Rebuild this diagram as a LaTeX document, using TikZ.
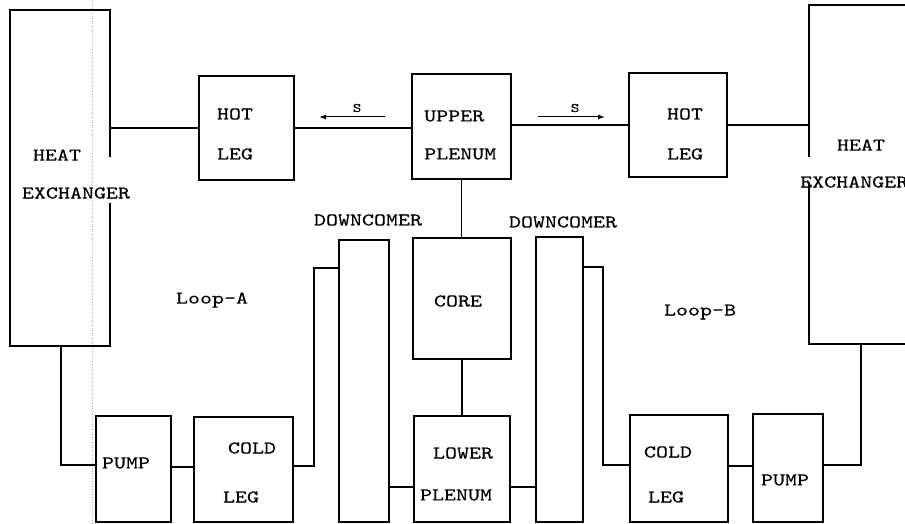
\documentclass[tikz,border=0pt]{standalone}
\usepackage{fontspec}
\newfontfamily\typew{lmmono10-regular.otf}[FakeStretch=1.27,FakeBold=0.3]
\usetikzlibrary{arrows.meta}
\begin{document}
\begin{tikzpicture}[x=1pt,y=-1pt,
  box/.style={draw, line width=1.1pt, inner sep=0pt, fill=none},
  lbl/.style={font=\typew\fontsize{18}{20}\selectfont, inner sep=0pt, text=black},
  slbl/.style={font=\typew\fontsize{13}{14}\selectfont, inner sep=0pt},
  pipe/.style={line width=1.1pt},
  flow/.style={line width=1pt, -{Latex[length=7pt,width=5pt]}}]
\useasboundingbox (0,0) rectangle (905,524);
\clip (0,0) rectangle (905,524);
% faint scan line
\draw[black!30, dotted, line width=0.6pt] (92,0) -- (92,524);
% boxes
\node[box, minimum width=100pt, minimum height=336pt] (hxa) at (60,178) {};
\node[box, minimum width=95pt, minimum height=104pt] (hla) at (246.5,128) {};
\node[box, minimum width=99pt, minimum height=105pt] (up) at (461.5,126.5) {};
\node[box, minimum width=98pt, minimum height=104pt] (hlb) at (678,125) {};
\node[box, minimum width=120pt, minimum height=339pt] (hxb) at (869,174.5) {};
\node[box, minimum width=98pt, minimum height=121pt] (core) at (462,298.5) {};
\node[box, minimum width=96pt, minimum height=106pt] (lp) at (462,469) {};
\node[box, minimum width=50pt, minimum height=282pt] (dca) at (364,381) {};
\node[box, minimum width=47pt, minimum height=285pt] (dcb) at (559.5,379.5) {};
\node[box, minimum width=99pt, minimum height=105pt] (cla) at (243.5,469.5) {};
\node[box, minimum width=75pt, minimum height=106pt] (pa) at (133.5,469) {};
\node[box, minimum width=98pt, minimum height=107pt] (clb) at (679,468.5) {};
\node[box, minimum width=70pt, minimum height=108pt] (pb) at (788,468) {};
% gaps in heat exchanger walls
\fill[white] (104,157) rectangle (116,203);
\fill[white] (803,157) rectangle (815,182);
% labels
\node[lbl] at (57,155) {HEAT};
\node[lbl] at (76,193) {EXCHANGER};
\node[lbl] at (235,114) {HOT};
\node[lbl] at (235,154) {LEG};
\node[lbl, anchor=west] at (424,116) {UPPER};
\node[lbl, anchor=west] at (424,154) {PLENUM};
\node[lbl] at (685,114) {HOT};
\node[lbl] at (685,154) {LEG};
\node[lbl] at (861,145) {HEAT};
\node[lbl, anchor=west] at (800,182) {EXCHANGER};
\node[lbl] at (368,220) {DOWNCOMER};
\node[lbl] at (563,222) {DOWNCOMER};
\node[lbl] at (458,301) {CORE};
\node[lbl] at (463,453) {LOWER};
\node[lbl] at (456,495) {PLENUM};
\node[lbl] at (212,300) {Loop-A};
\node[lbl] at (700,312) {Loop-B};
\node[lbl] at (252,448) {COLD};
\node[lbl] at (241,497) {LEG};
\node[lbl] at (126,463) {PUMP};
\node[lbl] at (668,452) {COLD};
\node[lbl] at (666,497) {LEG};
\node[lbl] at (785,480) {PUMP};
% flow arrows
\coordinate (sa1) at (385,117); \coordinate (sa2) at (319,117);
\coordinate (sb1) at (538,117); \coordinate (sb2) at (605,117);
\draw[flow] (sa1) -- (sa2);
\draw[flow] (sb1) -- (sb2);
\node[slbl] at (357,108) {S};
\node[slbl] at (575,108) {S};
% pipes
\draw[pipe] (hxa.east |- hla.west) -- (hla.west);
\draw[pipe] (hla.east) -- (hla.east -| up.west);
\draw[pipe] (up.east |- hlb.west) -- (hlb.west);
\draw[pipe] (hlb.east) -- (hlb.east -| hxb.west);
\draw[pipe] (up.south) -- (up.south |- core.north);
\draw[pipe] (core.south) -- (core.south |- lp.north);
\draw[pipe] (dca.east |- 0,487) -- (lp.west |- 0,487);
\draw[pipe] (lp.east |- 0,487) -- (dcb.west |- 0,487);
\draw[pipe] (61,346) -- (61,465) -- (pa.west |- 0,465);
\draw[pipe] (pa.east |- 0,467) -- (cla.west |- 0,467);
\draw[pipe] (cla.east |- 0,466) -- (314,466) -- (314,268) -- (dca.west |- 0,268);
\draw[pipe] (dcb.east |- 0,267) -- (603,267) -- (603,465) -- (clb.west |- 0,465);
\draw[pipe] (clb.east |- 0,466) -- (pb.west |- 0,466);
\draw[pipe] (pb.east |- 0,465) -- (861,465) -- (861,344);
\end{tikzpicture}
\end{document}
